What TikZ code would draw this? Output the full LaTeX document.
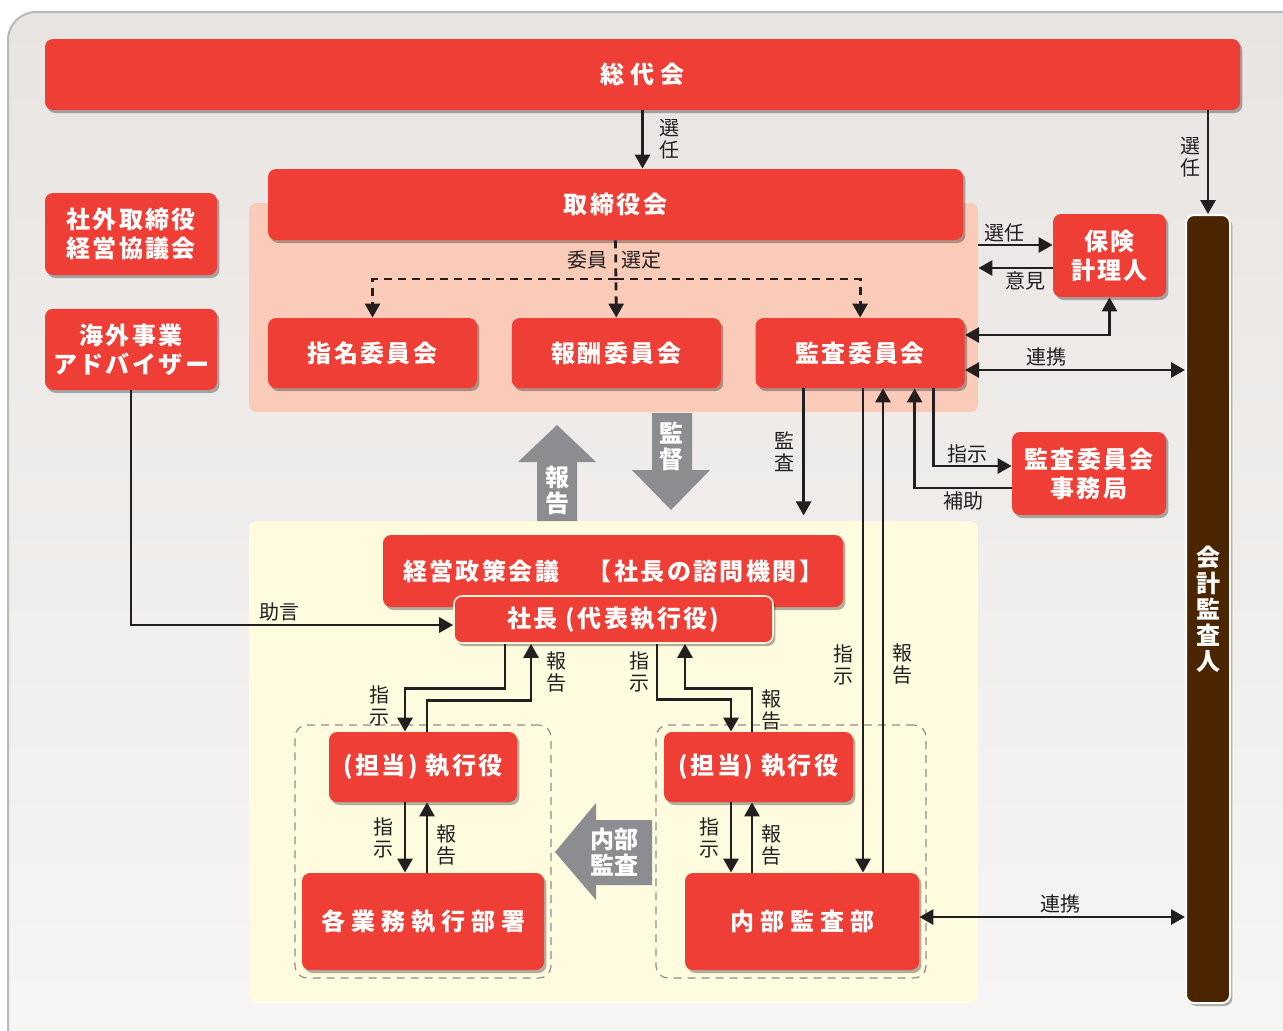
\documentclass[tikz,border=0pt]{standalone}
\usepackage{fontspec}
\setmainfont{Noto Sans CJK JP}
\usetikzlibrary{arrows.meta,positioning,calc,shadows}
\definecolor{boxred}{HTML}{EE3E36}
\definecolor{peach}{HTML}{FACBB8}
\definecolor{cream}{HTML}{FEFBDF}
\definecolor{creamline}{HTML}{FFF3DA}
\definecolor{bgtop}{HTML}{E8E4E2}
\definecolor{bgbot}{HTML}{F7F6F4}
\definecolor{frame}{HTML}{B9B9BB}
\definecolor{arrowgray}{HTML}{8C8D91}
\definecolor{groupgray}{HTML}{8E8E8E}
\definecolor{brown}{HTML}{4A2500}
\definecolor{ink}{HTML}{231F20}
\newcommand\boxfont{\fontsize{12}{14.5}\selectfont\bfseries}

\begin{document}
\begin{tikzpicture}[
  x=0.5pt, y=-0.5pt,
  box/.style={fill=boxred, rounded corners=4pt, text=white, align=center, inner sep=0pt,
    font=\boxfont\addfontfeature{LetterSpace=10},
    drop shadow={shadow xshift=1.2pt, shadow yshift=-1.5pt, fill=black, opacity=.3}},
  spaced/.style={font=\boxfont\addfontfeature{LetterSpace=25}},
  lbl/.style={font=\fontsize{10}{11}\selectfont, text=ink, align=center, inner sep=1pt},
  arrow/.style={-{Triangle[length=7pt,width=7.5pt]}, line width=1.4pt, draw=ink},
  both/.style={{Triangle[length=7pt,width=7.5pt]}-{Triangle[length=7pt,width=7.5pt]}, line width=1.4pt, draw=ink},
  select/.style={arrow, dash pattern=on 4pt off 3pt},
  zone/.style={rounded corners=4pt, inner sep=0pt},
  group/.style={draw=groupgray, dash pattern=on 4pt off 3pt, line width=.6pt, rounded corners=6pt, inner sep=0pt},
  bigtext/.style={text=white, font=\fontsize{12}{13}\selectfont\bfseries, align=center, inner sep=0pt}
]
  \useasboundingbox (0,0) rectangle (1283,1030);
  \shadedraw[top color=bgtop, bottom color=bgbot, draw=frame, line width=1pt, rounded corners=14pt]
    (8,12) rectangle (1320,1070);

  % areas
  \node[zone, fill=peach, minimum width=364.5pt, minimum height=104.5pt] (iinkai) at (613.5,307.5) {};
  \node[zone, fill=cream, minimum width=364.5pt, minimum height=241pt] (shikko) at (613.5,762) {};
  \node[group, minimum width=128pt, minimum height=126.5pt] (groupL) at (423,851.5) {};
  \node[group, minimum width=135pt, minimum height=126.5pt] (groupR) at (791,851.5) {};

  % boxes
  \node[box, spaced, minimum width=597.5pt, minimum height=35.5pt] (soudai) at (642.5,74.5) {総代会};
  \node[box, minimum width=347.5pt, minimum height=35.5pt] (torishimari) at (615.5,204.5) {取締役会};
  \node[box, minimum width=104.5pt, minimum height=35pt] (shimei) at (372.5,353) {指名委員会};
  \node[box, minimum width=104.5pt, minimum height=35pt, right=17pt of shimei] (houshu) {報酬委員会};
  \node[box, minimum width=104.5pt, minimum height=35pt, right=17pt of houshu] (kansa) {監査委員会};
  \node[box, minimum width=86pt, minimum height=41pt] (shagai) at (131,234) {社外取締役\\経営協議会};
  \node[box, minimum width=86pt, minimum height=40.5pt, below=16.5pt of shagai] (kaigai) {海外事業\\アドバイザー};
  \node[box, minimum width=56.5pt, minimum height=41.5pt] (hoken) at (1109.5,255.5) {保険\\計理人};
  \node[box, minimum width=77pt, minimum height=41.5pt] (jimukyoku) at (1089,473.5) {監査委員会\\事務局};
  \node[box, fill=brown, draw=white, line width=1pt, minimum width=22pt, minimum height=394pt,
    font=\fontsize{12}{13}\selectfont\bfseries] (kaikei) at (1208,609) {会\\計\\監\\査\\人};
  \node[box, minimum width=230pt, minimum height=36pt] (keiei) at (613,571) {経営政策会議　【社長の諮問機関】};
  \node[box, draw=creamline, line width=.8pt, minimum width=159.5pt, minimum height=23.5pt] (shacho) at (613.5,619.5) {社長 (代表執行役)};
  \node[box, minimum width=94pt, minimum height=35pt] (tantoL) at (423,767) {(担当) 執行役};
  \node[box, spaced, minimum width=121pt, minimum height=48.5pt] (gyomu) at (423,921.5) {各業務執行部署};
  \node[box, minimum width=94.5pt, minimum height=35pt] (tantoR) at (758.5,767) {(担当) 執行役};
  \node[box, spaced, minimum width=117pt, minimum height=48.5pt] (naibu) at (802,921.5) {内部監査部};

  % big gray arrows
  \fill[arrowgray] (537,521) -- (537,462) -- (518,462) -- (557,425) -- (596,462) -- (577,462) -- (577,521) -- cycle;
  \node[bigtext] (hokoku) at (557,490) {報\\告};
  \fill[arrowgray] (652,413) -- (652,470) -- (632,470) -- (671,510) -- (710,470) -- (692,470) -- (692,413) -- cycle;
  \node[bigtext] (kantoku) at (671,446) {監\\督};
  \fill[arrowgray] (652,820) -- (596,820) -- (596,803) -- (555,852) -- (596,900) -- (596,885) -- (652,885) -- cycle;
  \node[bigtext] (naibukansa) at (614,852) {内部\\監査};

  % election
  \draw[arrow] (soudai.south) -- node[lbl, right=7pt] {選\\任} (soudai.south |- torishimari.north);
  \draw[arrow] (kaikei.north |- soudai.south) -- node[lbl, left=2pt, pos=.45] {選\\任} (kaikei.north);

  % committee members
  \coordinate (branch) at ($(torishimari.south)!.5!(houshu.north)$);
  \draw[select] (torishimari.south) -- (houshu.north);
  \draw[select] (branch) -| (shimei.north);
  \draw[select] (branch) -| (kansa.north);
  \node[lbl] (iin) at (587,260) {委員};
  \node[lbl] (sentei) at (641,260) {選定};

  % actuary
  \draw[arrow] ($(hoken.west -| iinkai.east)+(0,-10.5)$) -- node[lbl, above, pos=.35] {選任} ($(hoken.west)+(0,-10.5)$);
  \draw[arrow] ($(hoken.west)+(0,12.5)$) -- node[lbl, below, pos=.37] {意見} ($(hoken.west -| iinkai.east)+(0,12.5)$);
  \draw[both] (hoken.south) |- ($(kansa.east)+(0,-18)$);
  \draw[both] ($(kansa.east)+(0,17)$) -- node[lbl, above, pos=.37] {連携} ($(kansa.east -| kaikei.west)+(0,17)$);

  % audit office
  \draw[arrow] ($(kansa.south)+(73.5,0)$) |- node[lbl, above, pos=.72] {指示} ($(jimukyoku.west)+(0,-7.5)$);
  \draw[arrow] ($(jimukyoku.west)+(0,14.5)$) -| node[lbl, below, pos=.25] {補助} ($(kansa.south)+(54.5,0)$);
  \coordinate (kansaEnd) at ($(kansa.south)+(-56.5,127)$);
  \draw[arrow] (kansa.south -| kansaEnd) -- node[lbl, left=3pt] {監\\査} (kansaEnd);

  % internal audit lines
  \coordinate (shijiX) at ($(naibu.north)+(61,0)$);
  \coordinate (hokokuX) at ($(naibu.north)+(81,0)$);
  \draw[arrow] (shijiX |- kansa.south) -- node[lbl, left=3pt, pos=.57] {指\\示} (shijiX);
  \draw[arrow] (hokokuX) -- node[lbl, right=3pt, pos=.43] {報\\告} (hokokuX |- kansa.south);

  % advice
  \draw[arrow] (kaigai.south) |- node[lbl, above, pos=.73] {助言} ($(shacho.west)+(0,5.5)$);

  % president and officers
  \draw[arrow] ($(shacho.south)+(-108.5,0)$) -- ($(shacho.south)+(-108.5,45)$) -| node[lbl, left=6pt, pos=.7] {指\\示} ($(tantoL.north)+(-18,0)$);
  \draw[arrow] ($(tantoL.north)+(4,0)$) |- ($(shacho.south)+(-82.5,57)$) -- node[lbl, right=6pt] {報\\告} ($(shacho.south)+(-82.5,0)$);
  \draw[arrow] ($(shacho.south)+(43.5,0)$) |- node[lbl, left=2pt, pos=.25] {指\\示} ($(tantoR.north)+(-27.5,-32)$) -- ($(tantoR.north)+(-27.5,0)$);
  \draw[arrow] ($(tantoR.north)+(-6.5,0)$) |- node[lbl, right=3pt, pos=.25] {報\\告} ($(shacho.south)+(71.5,45)$) -- ($(shacho.south)+(71.5,0)$);

  % officers and departments
  \draw[arrow] ($(tantoL.south)+(-18,0)$) -- node[lbl, left=4pt] {指\\示} ($(gyomu.north)+(-18,0)$);
  \draw[arrow] ($(gyomu.north)+(4,0)$) -- node[lbl, right=3pt, pos=.4] {報\\告} ($(tantoL.south)+(4,0)$);
  \coordinate (tR1) at ($(tantoR.south)+(-27.5,0)$);
  \coordinate (tR2) at ($(tantoR.south)+(-6.5,0)$);
  \draw[arrow] (tR1) -- node[lbl, left=4pt] {指\\示} (tR1 |- naibu.north);
  \draw[arrow] (tR2 |- naibu.north) -- node[lbl, right=3pt, pos=.4] {報\\告} (tR2);

  \draw[both] ($(naibu.east)+(0,-4.5)$) -- node[lbl, above, pos=.53] {連携} ($(naibu.east -| kaikei.west)+(0,-4.5)$);
\end{tikzpicture}
\end{document}
